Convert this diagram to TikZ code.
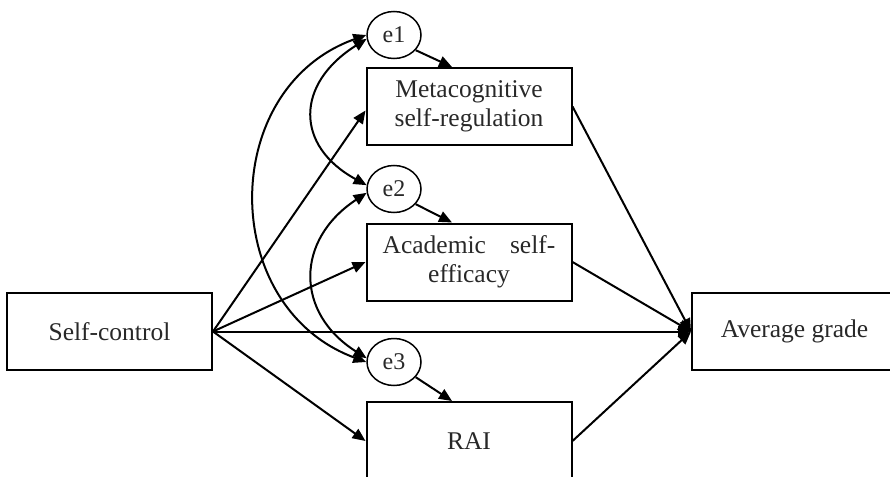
\documentclass[tikz,border=0pt]{standalone}
\usepackage{fontspec}
\setmainfont{Liberation Serif}
\usetikzlibrary{arrows.meta,shapes.geometric}
\definecolor{txt}{RGB}{40,40,40}
\begin{document}
\begin{tikzpicture}[x=1pt,y=-1pt,
  box/.style={draw,line width=2pt,minimum width=205pt,minimum height=77pt,inner sep=0pt,align=center,font=\fontsize{25.5}{29}\selectfont,text=txt},
  err/.style={draw,ellipse,line width=1.5pt,minimum width=54pt,minimum height=47pt,inner sep=0pt,font=\fontsize{24}{28}\selectfont,text=txt},
  tipx/.tip={Triangle[length=13pt,width=11pt]},
  arr/.style={line width=2pt,-tipx},
  cov/.style={line width=2pt,tipx-tipx}]
\useasboundingbox (0,0) rectangle (890,476);

\node[box] (sc) at (109.5,331.5) {Self-control};
\node[box] (meta) at (469,106.5) {Metacognitive\\self-regulation};
\node[box] (acad) at (469,262) {Academic\hspace{24pt}self-\\efficacy};
\node[box,minimum height=78pt] (rai) at (469,441) {RAI};
\node[box] (avg) at (794.5,331.5) {Average grade};

\node[err] (e1) at (394,35) {e1};
\node[err] (e2) at (394,189) {e2};
\node[err] (e3) at (394,362) {e3};

% error terms to boxes
\draw[arr] (e1.-35) -- ([xshift=-17pt]meta.north);
\draw[arr] (e2.-35) -- ([xshift=-17pt]acad.north);
\draw[arr] (e3.-35) -- ([xshift=-17pt]rai.north);

% self-control paths
\draw[arr] (sc.east) -- ([yshift=-4pt]meta.west);
\draw[arr] (sc.east) -- (acad.west);
\draw[arr] (sc.east) -- (rai.west);
\draw[arr] (sc.east) -- (avg.west);

% mediators to outcome
\draw[arr] (meta.east) -- (avg.west);
\draw[arr] (acad.east) -- (avg.west);
\draw[arr] (rai.east) -- (avg.west);

% covariances
\draw[cov] (e1.west) .. controls (218,88) and (218,307) .. (e3.west);
\draw[cov] (e1.188) .. controls (295,84) and (295,146) .. (e2.172);
\draw[cov] (e2.188) .. controls (295,240) and (295,313) .. (e3.172);
\end{tikzpicture}
\end{document}
